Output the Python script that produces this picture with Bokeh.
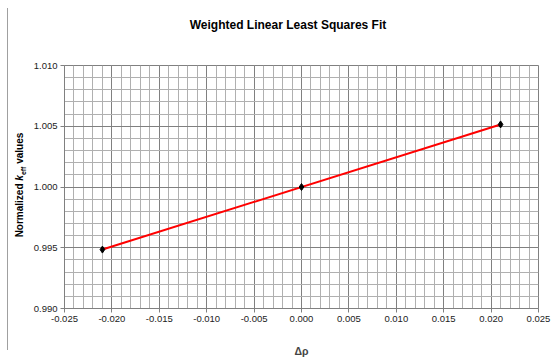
from bokeh.plotting import figure
from bokeh.models import FixedTicker, NumeralTickFormatter, Range1d, Div
from bokeh.layouts import column, row
from bokeh.embed import file_html
from bokeh.resources import INLINE

# data
delta_rho = [-0.021, 0.0, 0.021]
keff_norm = [0.99485, 1.0, 1.00515]
fit_x = [-0.021, 0.021]
fit_y = [0.99485, 1.00515]

x_ticks = [-0.025, -0.020, -0.015, -0.010, -0.005, 0.000, 0.005, 0.010, 0.015, 0.020, 0.025]
y_ticks = [0.990, 0.995, 1.000, 1.005, 1.010]
x_minor = [round(-0.025 + 0.001 * i, 3) for i in range(51)]
y_minor = [round(0.990 + 0.001 * i, 3) for i in range(21)]

title_text = "Weighted Linear Least Squares Fit"
FONT = "Liberation Sans"
BORDER = "#a0a0a0"

p = figure(width=526, height=320, output_backend="svg", toolbar_location=None,
           x_range=Range1d(-0.025, 0.025), y_range=Range1d(0.990, 1.010),
           min_border_left=34, min_border_right=18, min_border_bottom=52, min_border_top=25,
           margin=0)
p.title = None
p.background_fill_color = "white"
p.border_fill_color = "white"
p.outline_line_color = "#808080"

for ax, ticks, minor in ((p.xaxis[0], x_ticks, x_minor), (p.yaxis[0], y_ticks, y_minor)):
    ax.ticker = FixedTicker(ticks=ticks, minor_ticks=minor)
    ax.formatter = NumeralTickFormatter(format="0.000")
    ax.major_label_text_font = FONT
    ax.major_label_text_font_size = "9.5px"
    ax.major_label_text_color = "#222222"
    ax.axis_line_color = "#808080"
    ax.major_tick_line_color = "#808080"
    ax.major_tick_out = 4
    ax.major_tick_in = 0
    ax.minor_tick_line_color = None
    ax.major_label_standoff = 3

p.xaxis[0].axis_label = "\u0394\u03c1"
p.xaxis[0].axis_label_text_font = FONT
p.xaxis[0].axis_label_text_font_size = "10.5px"
p.xaxis[0].axis_label_text_font_style = "bold"
p.xaxis[0].axis_label_standoff = 20

for g in (p.xgrid[0], p.ygrid[0]):
    g.grid_line_color = "#808080"
    g.grid_line_width = 1
    g.minor_grid_line_color = "#b0b0b0"
    g.minor_grid_line_width = 1

p.line(fit_x, fit_y, line_color="#ff0000", line_width=2)
p.scatter(delta_rho, keff_norm, marker="diamond", size=7, fill_color="black", line_color="black")

title_div = Div(width=556, height=40, margin=0, text=(
    f'<div style="position:absolute;left:7px;top:8px;width:1px;height:32px;background:{BORDER};"></div>'
    f'<div style="position:absolute;left:288px;top:26px;transform:translate(-50%,-50%);'
    f'white-space:nowrap;font-family:\'{FONT}\';font-weight:bold;font-size:12px;color:black;">'
    f'{title_text}</div>'))

ylab_div = Div(width=30, height=320, margin=0, text=(
    f'<div style="position:absolute;left:7px;top:0px;width:1px;height:310px;background:{BORDER};"></div>'
    f'<div style="position:absolute;left:22px;top:145px;transform:translate(-50%,-50%) rotate(-90deg);'
    f'white-space:nowrap;font-family:\'{FONT}\';font-weight:bold;font-size:10px;color:black;line-height:12px;">'
    f'Normalized <i>k</i><sub style="font-size:7px;">eff</sub> values</div>'))

layout = column(title_div, row(ylab_div, p, spacing=0, margin=0), spacing=0, margin=0)

open("out.html", "w").write(file_html(layout, INLINE))
